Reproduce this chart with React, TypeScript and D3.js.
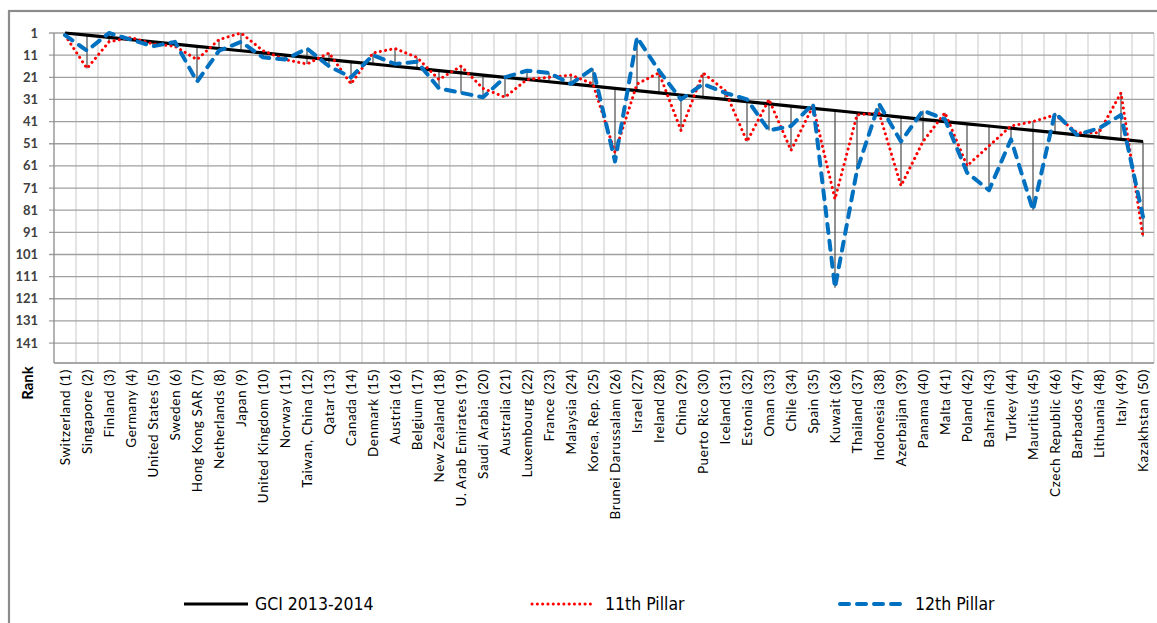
import React from "react";
import * as d3 from "d3";

const categories = [
  "Switzerland (1)", "Singapore (2)", "Finland (3)", "Germany (4)", "United States (5)",
  "Sweden (6)", "Hong Kong SAR (7)", "Netherlands (8)", "Japan (9)", "United Kingdom (10)",
  "Norway (11)", "Taiwan, China (12)", "Qatar (13)", "Canada (14)", "Denmark (15)",
  "Austria (16)", "Belgium (17)", "New Zealand (18)", "U. Arab Emirates (19)", "Saudi Arabia (20)",
  "Australia (21)", "Luxembourg (22)", "France (23)", "Malaysia (24)", "Korea, Rep. (25)",
  "Brunei Darussalam (26)", "Israel (27)", "Ireland (28)", "China (29)", "Puerto Rico (30)",
  "Iceland (31)", "Estonia (32)", "Oman (33)", "Chile (34)", "Spain (35)",
  "Kuwait (36)", "Thailand (37)", "Indonesia (38)", "Azerbaijan (39)", "Panama (40)",
  "Malta (41)", "Poland (42)", "Bahrain (43)", "Turkey (44)", "Mauritius (45)",
  "Czech Republic (46)", "Barbados (47)", "Lithuania (48)", "Italy (49)", "Kazakhstan (50)",
];

const gci = [
  1, 2, 3, 4, 5, 6, 7, 8, 9, 10,
  11, 12, 13, 14, 15, 16, 17, 18, 19, 20,
  21, 22, 23, 24, 25, 26, 27, 28, 29, 30,
  31, 32, 33, 34, 35, 36, 37, 38, 39, 40,
  41, 42, 43, 44, 45, 46, 47, 48, 49, 50,
];

const pillar11 = [
  2, 17, 5, 3, 6, 7, 13, 4, 1, 9,
  13, 15, 10, 24, 10, 8, 12, 22, 16, 26,
  30, 22, 21, 20, 24, 55, 24, 19, 45, 19,
  27, 50, 31, 54, 34, 76, 38, 37, 70, 50,
  37, 61, 52, 43, 41, 38, 46, 46, 28, 93,
];

const pillar12 = [
  2, 9, 1, 4, 7, 5, 23, 9, 5, 12,
  13, 8, 16, 21, 11, 15, 14, 26, 28, 30,
  21, 18, 19, 24, 17, 59, 3, 18, 31, 24,
  28, 31, 45, 43, 33, 116, 63, 33, 50, 36,
  40, 64, 72, 49, 81, 37, 47, 44, 38, 84,
];

const yTicks = [1, 11, 21, 31, 41, 51, 61, 71, 81, 91, 101, 111, 121, 131, 141];

const legendItems = ["GCI 2013-2014", "11th Pillar", "12th Pillar"];

export default function App() {
  const W = 1157;
  const H = 623;
  const left = 54;
  const right = 1154;
  const top = 33;
  const bottom = 363;

  const x = d3.scaleBand<string>().domain(categories).range([left, right]).paddingInner(0).paddingOuter(0);
  const y = d3.scaleLinear().domain([1, 150]).range([top, bottom]);
  const cx = (i: number) => (x(categories[i]) as number) + x.bandwidth() / 2;

  const line = d3
    .line<number>()
    .x((_, i) => cx(i))
    .y((d) => y(d));

  const boundaries = d3.range(1, categories.length + 1).map((k) => left + k * x.bandwidth());

  const labelFont = "Lato, 'Open Sans', sans-serif";

  return (
    <svg width={W} height={H} style={{ position: "absolute", left: 0, top: 0, background: "#fff" }}>
      <rect x={0} y={0} width={W} height={H} fill="#fff" />
      {/* chart area border */}
      <rect x={9} y={11} width={W + 20} height={H + 20} fill="none" stroke="#8c8c8c" strokeWidth={2.2} />

      {/* vertical gridlines */}
      {boundaries.map((bx, i) => (
        <line key={"v" + i} x1={bx} x2={bx} y1={top} y2={bottom} stroke="#d9d9d9" strokeWidth={1.4} />
      ))}
      {/* horizontal gridlines */}
      {yTicks.map((t) => (
        <line key={"h" + t} x1={left - 5} x2={right} y1={y(t)} y2={y(t)} stroke="#a0a0a0" strokeWidth={1.3} />
      ))}
      {/* axes */}
      <line x1={left} x2={left} y1={top} y2={bottom} stroke="#8a8a8a" strokeWidth={1.3} />
      <line x1={left} x2={right} y1={bottom} y2={bottom} stroke="#8a8a8a" strokeWidth={1.3} />

      {/* y tick labels */}
      {yTicks.map((t) => (
        <text
          key={"yl" + t}
          x={38}
          y={y(t)}
          dy="0.35em"
          textAnchor="end"
          fontFamily={labelFont}
          fontWeight={700}
          fontSize={13}
          fill="#404040"
        >
          {t}
        </text>
      ))}
      <text
        transform={`translate(33, 383) rotate(-90)`}
        textAnchor="middle"
        fontFamily={labelFont}
        fontWeight={700}
        fontSize={15}
        fill="#000"
      >
        Rank
      </text>

      {/* x labels */}
      {categories.map((c, i) => (
        <text
          key={"xl" + i}
          transform={`translate(${cx(i) + 5}, 369) rotate(-90)`}
          textAnchor="end"
          fontFamily={labelFont}
          fontSize={13.5}
          letterSpacing={0.6}
          fill="#000"
        >
          {c}
        </text>
      ))}

      {/* high-low lines */}
      {categories.map((c, i) => {
        const vals = [gci[i], pillar11[i], pillar12[i]];
        return (
          <line
            key={"hl" + i}
            x1={cx(i)}
            x2={cx(i)}
            y1={y(d3.min(vals) as number)}
            y2={y(d3.max(vals) as number)}
            stroke="#4a4a4a"
            strokeWidth={1.2}
          />
        );
      })}

      {/* series */}
      <path d={line(gci) || ""} fill="none" stroke="#000" strokeWidth={3.2} strokeLinejoin="round" />
      <path
        d={line(pillar11) || ""}
        fill="none"
        stroke="#ff0000"
        strokeWidth={3}
        strokeDasharray="0.1 5.2"
        strokeLinecap="round"
        strokeLinejoin="round"
      />
      <path
        d={line(pillar12) || ""}
        fill="none"
        stroke="#0070c0"
        strokeWidth={4}
        strokeDasharray="9 8"
        strokeLinecap="round"
        strokeLinejoin="round"
      />

      {/* legend */}
      <g fontFamily="'DejaVu Sans Condensed', 'Liberation Sans Narrow', sans-serif" fontSize={17.5} fill="#000">
        <line x1={184} x2={248} y1={604} y2={604} stroke="#000" strokeWidth={3.2} />
        <text x={255} y={604} dy="0.36em">{legendItems[0]}</text>
        <line
          x1={532}
          x2={592}
          y1={604}
          y2={604}
          stroke="#ff0000"
          strokeWidth={3}
          strokeDasharray="0.1 5.2"
          strokeLinecap="round"
        />
        <text x={605} y={604} dy="0.36em">{legendItems[1]}</text>
        <line
          x1={840}
          x2={908}
          y1={604}
          y2={604}
          stroke="#0070c0"
          strokeWidth={4}
          strokeDasharray="9 8"
          strokeLinecap="round"
        />
        <text x={915} y={604} dy="0.36em">{legendItems[2]}</text>
      </g>
    </svg>
  );
}
